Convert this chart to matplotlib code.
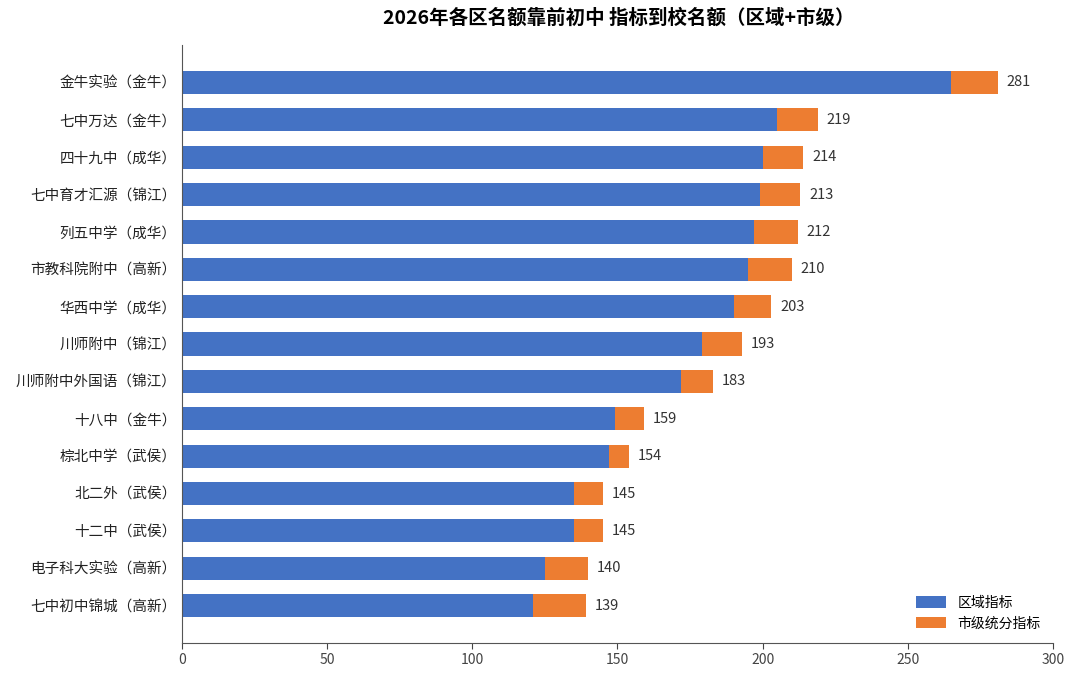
import matplotlib.pyplot as plt

plt.rcParams['font.family'] = ['Noto Sans CJK SC', 'DejaVu Sans']

# school names, top to bottom
schools = ['金牛实验（金牛）', '七中万达（金牛）', '四十九中（成华）', '七中育才汇源（锦江）',
           '列五中学（成华）', '市教科院附中（高新）', '华西中学（成华）', '川师附中（锦江）',
           '川师附中外国语（锦江）', '十八中（金牛）', '棕北中学（武侯）', '北二外（武侯）',
           '十二中（武侯）', '电子科大实验（高新）', '七中初中锦城（高新）']
regional = [265, 205, 200, 199, 197, 195, 190, 179, 172, 149, 147, 135, 135, 125, 121]
city = [16, 14, 14, 14, 15, 15, 13, 14, 11, 10, 7, 10, 10, 15, 18]
totals = [281, 219, 214, 213, 212, 210, 203, 193, 183, 159, 154, 145, 145, 140, 139]

fig = plt.figure(figsize=(10.8, 6.83), dpi=100)
ax = fig.add_axes([0.1685, 0.0586, 0.8065, 0.8754])

pos = list(range(len(schools)))
ax.barh(pos, regional, height=0.62, color='#4472C4', label='区域指标')
ax.barh(pos, city, left=regional, height=0.62, color='#ED7D31', label='市级统分指标')

# total labels at bar ends
for p, t in zip(pos, totals):
    ax.text(t + 3, p, str(t), va='center', ha='left', fontsize=10.5, color='#333333')

ax.set_yticks(pos)
ax.set_yticklabels(schools, fontsize=10.5, color='#222222')
ax.set_ylim(len(schools), -1)
ax.set_xlim(0, 300)
ax.set_xticks([0, 50, 100, 150, 200, 250, 300])
ax.tick_params(axis='x', labelsize=10, colors='#444444', length=4)
ax.tick_params(axis='y', length=0, pad=4)

for side in ['top', 'right']:
    ax.spines[side].set_visible(False)
for side in ['left', 'bottom']:
    ax.spines[side].set_color('#555555')

ax.legend(loc='lower right', frameon=False, fontsize=10, handlelength=2.2,
          handleheight=0.9, handletextpad=0.8, bbox_to_anchor=(1.0, 0.0))

fig.suptitle('2026年各区名额靠前初中 指标到校名额（区域+市级）', fontsize=14,
             fontweight='bold', x=0.573, y=0.988)

fig.savefig('out.png', dpi=100)
